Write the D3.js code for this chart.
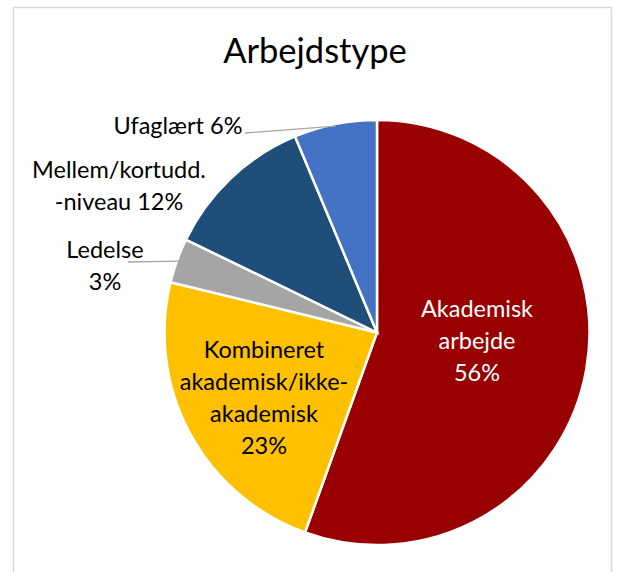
<!DOCTYPE html>
<html><head><meta charset="utf-8">
<script src="https://cdn.jsdelivr.net/npm/d3@7"></script>
<style>body{margin:0;background:#fff}</style>
</head><body>
<svg id="c" width="622" height="572"></svg>
<script>
const categories = ["Akademisk arbejde","Kombineret akademisk/ikke-akademisk","Ledelse","Mellem/kortudd.-niveau","Ufaglært"];
const values = [55.5, 23.3, 3.4, 11.5, 6.3];
const labelLines = [
  ["Akademisk","arbejde","56%"],
  ["Kombineret","akademisk/ikke-","akademisk","23%"],
  ["Ledelse","3%"],
  ["Mellem/kortudd.","-niveau 12%"],
  ["Ufaglært 6%"]
];
const colors = ["#990000","#FFC000","#A5A5A5","#1F4E79","#4472C4"];

// layout (not data)
const W=622,H=572, cx=377, cy=332.5, R=212.5, LH=32;
const labelPos = [
  {x:477,y:317,fill:"#fff"},
  {x:264,y:358,fill:"#000"},
  {x:105,y:258,fill:"#000"},
  {x:119,y:178,fill:"#000"},
  {x:178,y:134,fill:"#000"}
];
const leaders = {4:[245,133], 2:[128,262]};

const svg=d3.select("#c");
svg.append("rect").attr("x",13.5).attr("y",7.5).attr("width",598).attr("height",580)
  .attr("fill","#fff").attr("stroke","#D9D9D9").attr("stroke-width",1.5);
svg.append("text").attr("x",315).attr("y",63).attr("text-anchor","middle")
  .attr("font-family","Lato, sans-serif").attr("font-size",34.5).attr("fill","#000").text("Arbejdstype");

const pie=d3.pie().sort(null).value(d=>d)(values);
const arc=d3.arc().innerRadius(0).outerRadius(R);
const g=svg.append("g").attr("transform",`translate(${cx},${cy})`);
g.selectAll("path").data(pie).join("path").attr("d",arc)
  .attr("fill",(d,i)=>colors[i]).attr("stroke","#fff").attr("stroke-width",2.5);

// leader lines
Object.keys(leaders).forEach(k=>{
  const d=pie[k], a=(d.startAngle+d.endAngle)/2;
  const ex=cx+(R-2)*Math.sin(a), ey=cy-(R-2)*Math.cos(a);
  svg.append("line").attr("x1",leaders[k][0]).attr("y1",leaders[k][1]).attr("x2",ex).attr("y2",ey)
    .attr("stroke","#A6A6A6").attr("stroke-width",1.3);
});

labelLines.forEach((lines,i)=>{
  const p=labelPos[i];
  const t=svg.append("text").attr("text-anchor","middle").attr("font-family","Lato, sans-serif")
    .attr("font-size",23.5).attr("fill",p.fill);
  lines.forEach((l,j)=>t.append("tspan").attr("x",p.x).attr("y",p.y+j*LH).text(l));
});
</script>
</body></html>
